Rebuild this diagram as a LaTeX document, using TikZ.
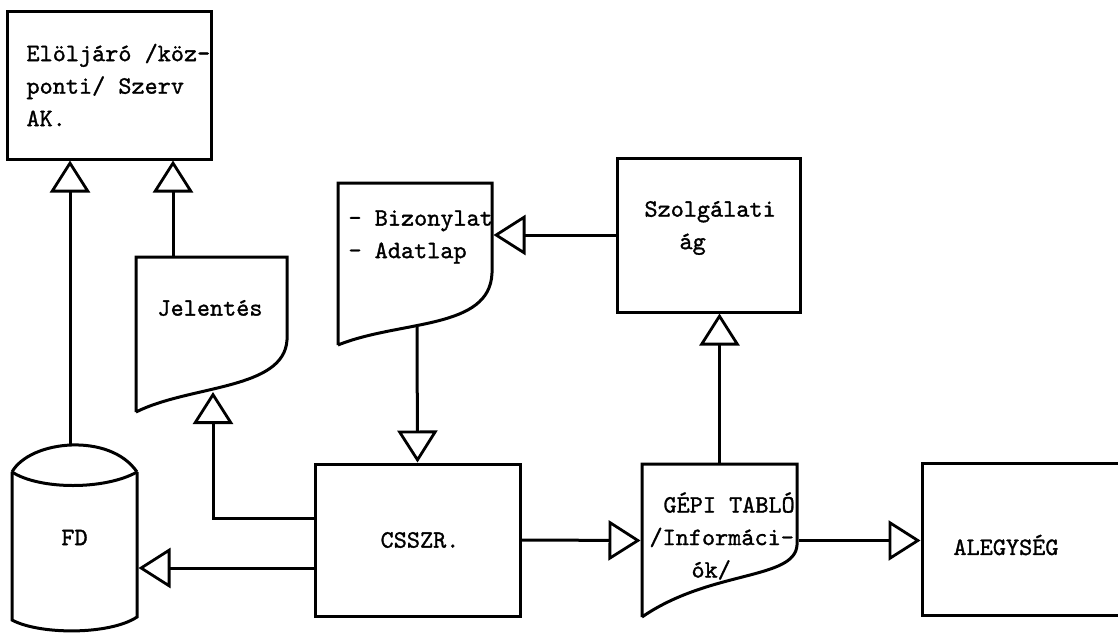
\documentclass[tikz,border=0pt]{standalone}
\usepackage{fontspec}
\newfontfamily\tw{lmmono10-regular.otf}[FakeBold=1.2]
\usetikzlibrary{arrows.meta}
\begin{document}
\begin{tikzpicture}[x=1pt,y=-1pt,
  line width=3pt,
  every node/.style={font=\tw\fontsize{25}{32.5}\selectfont, inner sep=0pt},
  ghost/.style={rectangle, draw=none},
  arr/.style={-{Triangle[open,length=32pt,width=40pt,line width=2.8pt]}},
  txt/.style={align=left, anchor=west}
]
\useasboundingbox (0,0) rectangle (1118,632);
\clip (0,0) rectangle (1118,632);

% Elöljáró box
\node[draw, minimum width=204pt, minimum height=148pt] (sup) at (109,85) {};
\node[txt] (supt) at (25,85) {Elöljáró /köz-\\ponti/ Szerv\\AK.};

% FD cylinder
\node[ghost, minimum width=125pt, minimum height=185pt] (fd) at (74.5,537.5) {FD};
\draw (12,472) .. controls (30,440) and (110,432) .. (137,472);
\draw (12,472) .. controls (40,490) and (105,490) .. (137,472);
\draw (12,472) -- (12,620) .. controls (40,635) and (110,635) .. (137,617) -- (137,472);
\coordinate (fdtop) at (70,446);

% Jelentés document
\node[ghost, minimum width=151pt, minimum height=155pt] (jel) at (211.5,334.5) {};
\draw (136,412) -- (136,257) -- (287,257) -- (287,340) .. controls (284,390) and (190,385) .. (136,412);
\node (jelt) at (210,308) {Jelentés};
\coordinate (jeltop) at (173,257);
\coordinate (jelbot) at (213,392);

% Bizonylat document
\node[ghost, minimum width=154pt, minimum height=162pt] (biz) at (415,264) {};
\draw (338,345) -- (338,183) -- (492,183) -- (492,273) .. controls (490,330) and (400,320) .. (338,345);
\node[txt] (bizt) at (347,237) {- Bizonylat\\- Adatlap};
\coordinate (bizbot) at (417,327);

% Szolgálati ág
\node[draw, minimum width=183pt, minimum height=154pt] (szo) at (708.5,235) {};
\node[txt] (szot) at (643,228) {Szolgálati\\\hspace*{35pt}ág};

% CSSZR
\node[draw, minimum width=205pt, minimum height=152pt] (cssz) at (417.5,540) {};
\node (csszt) at (420,540) {CSSZR.};

% GÉPI TABLÓ document
\node[ghost, minimum width=155pt, minimum height=153pt] (gep) at (719.5,540.5) {};
\draw (642,617) -- (642,464) -- (797,464) -- (797,545) .. controls (795,580) and (710,570) .. (642,617);
\node[txt] (gept) at (648,536) {\hspace*{14pt}GÉPI TABLÓ\\/Informáci-\\\hspace*{42pt}ók/};

% ALEGYSÉG
\node[draw, minimum width=220pt, minimum height=152pt] (ale) at (1032,539) {};
\node[txt] (alet) at (952,545) {ALEGYSÉG};

% connectors
\draw[arr] (fdtop) -- (fdtop |- sup.south);
\draw[arr] (jeltop) -- (jeltop |- sup.south);
\draw[arr] ([yshift=22pt]cssz.west) -| (jelbot);
\draw[arr] ([yshift=-28pt]cssz.west) -- ([yshift=-28pt]cssz.west -| fd.east);
\draw[arr] (bizbot) -- (cssz.north);
\draw[arr] (szo.west) -- (szo.west -| biz.east);
\draw[arr] (gep.north) -- (gep.north |- szo.south);
\draw[arr] (cssz.east) -- (gep.west);
\draw[arr] (gep.east) -- (gep.east -| ale.west);
\end{tikzpicture}
\end{document}
